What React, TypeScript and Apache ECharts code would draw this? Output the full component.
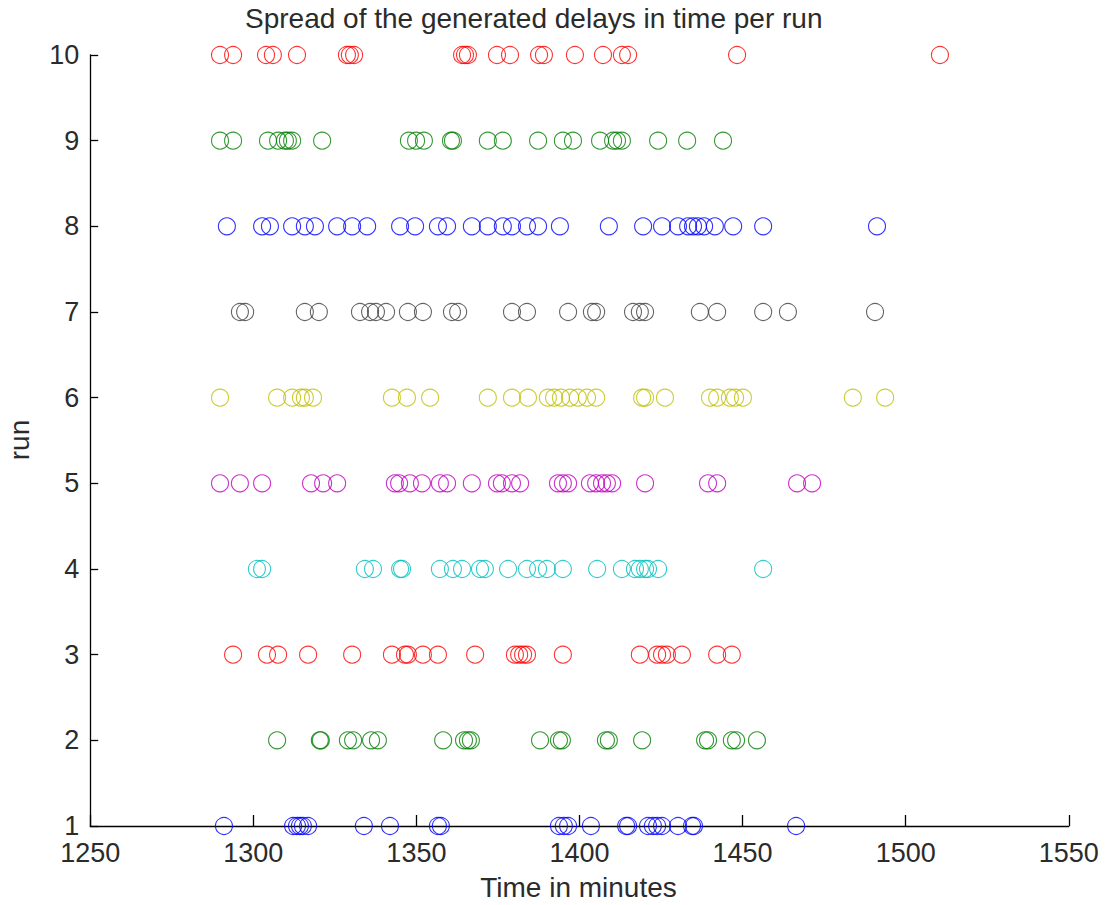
import React, { useEffect, useRef } from "react";
import * as echarts from "echarts";

// ---- data (time in minutes per run) ----
const run1 = [1291.0, 1312.2, 1313.4, 1314.3, 1315.2, 1316.8, 1333.9, 1341.9, 1356.6, 1357.5, 1393.7, 1395.2, 1396.5, 1403.5, 1414.3, 1414.9, 1421.0, 1422.5, 1423.8, 1425.3, 1430.2, 1434.5, 1435.1, 1466.4];
const run2 = [1307.3, 1320.4, 1320.7, 1329.0, 1330.6, 1336.1, 1338.2, 1358.2, 1364.6, 1365.8, 1366.7, 1387.9, 1393.7, 1394.6, 1408.1, 1409.0, 1419.2, 1438.5, 1439.4, 1446.7, 1448.0, 1454.4];
const run3 = [1293.8, 1304.2, 1307.6, 1316.8, 1330.3, 1342.5, 1346.5, 1347.4, 1352.0, 1356.6, 1368.0, 1380.2, 1381.5, 1382.7, 1383.9, 1394.9, 1418.5, 1423.8, 1425.3, 1426.8, 1431.4, 1442.2, 1446.7];
const run4 = [1301.1, 1302.7, 1334.2, 1336.7, 1345.0, 1345.6, 1357.2, 1361.2, 1364.0, 1369.5, 1371.0, 1378.1, 1383.9, 1387.3, 1390.0, 1394.9, 1405.4, 1413.0, 1417.0, 1418.5, 1420.1, 1421.0, 1424.1, 1456.3];
const run5 = [1289.8, 1295.9, 1302.7, 1317.7, 1321.4, 1325.7, 1343.4, 1344.7, 1348.0, 1351.7, 1357.2, 1359.4, 1367.0, 1374.7, 1376.2, 1379.3, 1381.8, 1393.4, 1394.9, 1396.5, 1403.2, 1405.1, 1406.9, 1408.4, 1410.0, 1420.1, 1439.4, 1442.2, 1466.7, 1471.3];
const run6 = [1289.8, 1307.3, 1311.9, 1314.6, 1315.8, 1318.3, 1342.5, 1347.1, 1354.2, 1371.9, 1379.3, 1384.2, 1390.3, 1392.2, 1394.3, 1397.1, 1399.5, 1402.3, 1405.1, 1419.2, 1420.1, 1426.2, 1440.0, 1442.2, 1446.1, 1447.7, 1450.1, 1483.8, 1493.7];
const run7 = [1295.9, 1297.5, 1315.8, 1320.1, 1332.7, 1335.8, 1337.6, 1340.7, 1347.4, 1352.0, 1360.9, 1362.8, 1379.3, 1383.9, 1396.5, 1403.8, 1405.1, 1416.4, 1418.5, 1420.1, 1436.9, 1442.2, 1456.3, 1463.9, 1490.6];
const run8 = [1291.9, 1302.7, 1305.1, 1311.9, 1315.8, 1318.9, 1325.7, 1330.3, 1334.9, 1345.0, 1349.6, 1356.6, 1359.4, 1367.0, 1371.9, 1376.5, 1379.3, 1383.9, 1387.3, 1394.0, 1409.0, 1419.5, 1425.3, 1430.2, 1433.3, 1434.8, 1436.3, 1438.2, 1441.5, 1447.1, 1456.3, 1491.2];
const run9 = [1289.8, 1293.8, 1304.5, 1307.6, 1309.7, 1310.6, 1311.9, 1321.1, 1347.7, 1349.9, 1352.3, 1360.6, 1361.2, 1371.9, 1376.5, 1387.3, 1394.9, 1398.0, 1406.3, 1410.3, 1411.5, 1413.0, 1424.1, 1433.0, 1444.0];
const run10 = [1289.8, 1293.8, 1303.9, 1306.0, 1313.4, 1328.7, 1329.6, 1330.9, 1364.0, 1364.9, 1365.8, 1374.7, 1378.7, 1387.6, 1389.1, 1398.6, 1407.2, 1413.0, 1414.9, 1448.3, 1510.5];

const runs = [1, 2, 3, 4, 5, 6, 7, 8, 9, 10];
const runValues = [run1, run2, run3, run4, run5, run6, run7, run8, run9, run10];
const runColors = ["#0000FF", "#008000", "#FF0000", "#00BFBF", "#BF00BF", "#BFBF00", "#404040", "#0000FF", "#008000", "#FF0000"];

const xMin = 1250;
const xMax = 1550;
const xStep = 50;
const yMin = 1;
const yMax = 10;
const yStep = 1;

const titleText = "Spread of the generated delays in time per run";
const xLabelText = "Time in minutes";
const yLabelText = "run";

const FONT = "'Liberation Sans', Arial, Helvetica, sans-serif";
const TEXT_COLOR = "#2b2b2b";

export default function App() {
  const ref = useRef<HTMLDivElement>(null);

  useEffect(() => {
    if (!ref.current) return;
    const chart = echarts.init(ref.current, undefined, { renderer: "svg" });

    const series = runs.map((r, i) => ({
      name: "run " + r,
      type: "scatter" as const,
      symbol: "circle",
      symbolSize: 17,
      data: runValues[i].map((v) => [v, r]),
      itemStyle: {
        color: "rgba(0,0,0,0)",
        borderColor: runColors[i],
        borderWidth: 1.1,
      },
      emphasis: { disabled: true },
    }));

    chart.setOption({
      animation: false,
      backgroundColor: "#ffffff",
      grid: { left: 90.2, right: 40.2, top: 55, bottom: 79, containLabel: false },
      xAxis: {
        type: "value",
        min: xMin,
        max: xMax,
        interval: xStep,
        axisLine: { show: true, onZero: false, lineStyle: { color: "#000", width: 1.3 } },
        axisTick: { show: true, inside: true, length: 11, lineStyle: { color: "#000", width: 1.3 } },
        axisLabel: {
          color: TEXT_COLOR,
          fontSize: 27,
          fontFamily: FONT,
          margin: 13,
          formatter: (v: number) => String(v),
        },
        splitLine: { show: false },
      },
      yAxis: {
        type: "value",
        min: yMin,
        max: yMax,
        interval: yStep,
        axisLine: { show: true, onZero: false, lineStyle: { color: "#000", width: 1.3 } },
        axisTick: { show: true, inside: true, length: 8, lineStyle: { color: "#000", width: 1.3 } },
        axisLabel: {
          color: TEXT_COLOR,
          fontSize: 27,
          fontFamily: FONT,
          margin: 11,
          formatter: (v: number) => String(v),
        },
        splitLine: { show: false },
      },
      graphic: [
        {
          type: "text",
          left: 245,
          top: 4,
          style: { text: titleText, fill: TEXT_COLOR, fontSize: 28, fontFamily: FONT },
        },
        {
          type: "text",
          x: 578.5,
          y: 887,
          style: { text: xLabelText, fill: TEXT_COLOR, fontSize: 28, fontFamily: FONT, align: "center", verticalAlign: "middle" },
        },
        {
          type: "text",
          x: 19,
          y: 440,
          rotation: Math.PI / 2,
          style: { text: yLabelText, fill: TEXT_COLOR, fontSize: 28, fontFamily: FONT, align: "center", verticalAlign: "middle" },
        },
      ],
      series,
    });

    return () => chart.dispose();
  }, []);

  return (
    <div
      ref={ref}
      style={{ position: "fixed", left: 0, top: 0, width: 1109, height: 905, background: "#fff" }}
    />
  );
}
